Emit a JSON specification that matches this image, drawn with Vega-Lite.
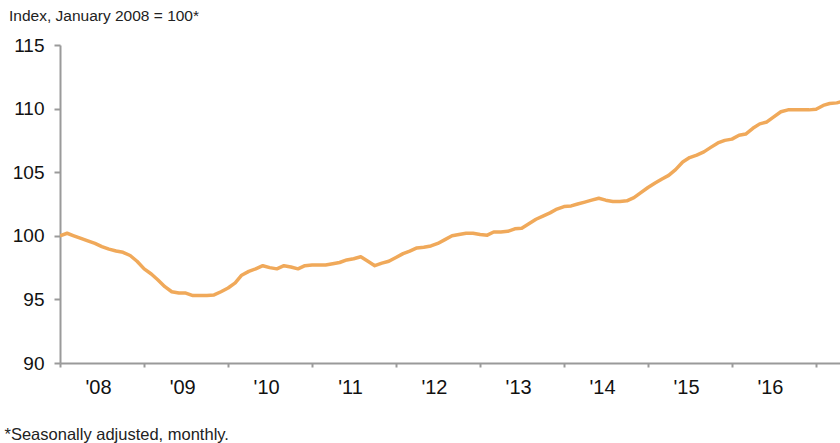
{
  "$schema": "https://vega.github.io/schema/vega-lite/v6.json",
  "autosize": "none",
  "width": 780,
  "height": 318,
  "padding": {"left": 60, "top": 45, "right": 0, "bottom": 80},
  "background": "white",
  "config": {
    "view": {"stroke": null},
    "font": "Liberation Sans",
    "axis": {"grid": false, "domainColor": "#9a9a9a", "tickColor": "#9a9a9a", "domainWidth": 2, "tickWidth": 2, "labelColor": "#111111", "labelFont": "Liberation Sans"}
  },
  "title": {
    "text": "Index, January 2008 = 100*",
    "anchor": "start",
    "frame": "bounds",
    "fontSize": 15.5,
    "fontWeight": "normal",
    "color": "#222222",
    "offset": 12,
    "dx": 5
  },
  "data": {
    "values": [
      {"date": "2008-01-01", "v": 100.0},
      {"date": "2008-02-01", "v": 100.2},
      {"date": "2008-03-01", "v": 100.0},
      {"date": "2008-04-01", "v": 99.8},
      {"date": "2008-05-01", "v": 99.6},
      {"date": "2008-06-01", "v": 99.4},
      {"date": "2008-07-01", "v": 99.15},
      {"date": "2008-08-01", "v": 98.95},
      {"date": "2008-09-01", "v": 98.8},
      {"date": "2008-10-01", "v": 98.7},
      {"date": "2008-11-01", "v": 98.45},
      {"date": "2008-12-01", "v": 98.0},
      {"date": "2009-01-01", "v": 97.4},
      {"date": "2009-02-01", "v": 97.0},
      {"date": "2009-03-01", "v": 96.55},
      {"date": "2009-04-01", "v": 96.0},
      {"date": "2009-05-01", "v": 95.6},
      {"date": "2009-06-01", "v": 95.5},
      {"date": "2009-07-01", "v": 95.5},
      {"date": "2009-08-01", "v": 95.3},
      {"date": "2009-09-01", "v": 95.3},
      {"date": "2009-10-01", "v": 95.3},
      {"date": "2009-11-01", "v": 95.35},
      {"date": "2009-12-01", "v": 95.6},
      {"date": "2010-01-01", "v": 95.9},
      {"date": "2010-02-01", "v": 96.3},
      {"date": "2010-03-01", "v": 96.9},
      {"date": "2010-04-01", "v": 97.2},
      {"date": "2010-05-01", "v": 97.4},
      {"date": "2010-06-01", "v": 97.65},
      {"date": "2010-07-01", "v": 97.5},
      {"date": "2010-08-01", "v": 97.4},
      {"date": "2010-09-01", "v": 97.65},
      {"date": "2010-10-01", "v": 97.55},
      {"date": "2010-11-01", "v": 97.4},
      {"date": "2010-12-01", "v": 97.65},
      {"date": "2011-01-01", "v": 97.7},
      {"date": "2011-02-01", "v": 97.7},
      {"date": "2011-03-01", "v": 97.7},
      {"date": "2011-04-01", "v": 97.8},
      {"date": "2011-05-01", "v": 97.9},
      {"date": "2011-06-01", "v": 98.1},
      {"date": "2011-07-01", "v": 98.2},
      {"date": "2011-08-01", "v": 98.35},
      {"date": "2011-09-01", "v": 98.0},
      {"date": "2011-10-01", "v": 97.65},
      {"date": "2011-11-01", "v": 97.85},
      {"date": "2011-12-01", "v": 98.0},
      {"date": "2012-01-01", "v": 98.3},
      {"date": "2012-02-01", "v": 98.6},
      {"date": "2012-03-01", "v": 98.8},
      {"date": "2012-04-01", "v": 99.05},
      {"date": "2012-05-01", "v": 99.1},
      {"date": "2012-06-01", "v": 99.2},
      {"date": "2012-07-01", "v": 99.4},
      {"date": "2012-08-01", "v": 99.7},
      {"date": "2012-09-01", "v": 100.0},
      {"date": "2012-10-01", "v": 100.1},
      {"date": "2012-11-01", "v": 100.2},
      {"date": "2012-12-01", "v": 100.2},
      {"date": "2013-01-01", "v": 100.1},
      {"date": "2013-02-01", "v": 100.05},
      {"date": "2013-03-01", "v": 100.3},
      {"date": "2013-04-01", "v": 100.3},
      {"date": "2013-05-01", "v": 100.35},
      {"date": "2013-06-01", "v": 100.55},
      {"date": "2013-07-01", "v": 100.6},
      {"date": "2013-08-01", "v": 100.95},
      {"date": "2013-09-01", "v": 101.3},
      {"date": "2013-10-01", "v": 101.55},
      {"date": "2013-11-01", "v": 101.8},
      {"date": "2013-12-01", "v": 102.1},
      {"date": "2014-01-01", "v": 102.3},
      {"date": "2014-02-01", "v": 102.35},
      {"date": "2014-03-01", "v": 102.5},
      {"date": "2014-04-01", "v": 102.65},
      {"date": "2014-05-01", "v": 102.8},
      {"date": "2014-06-01", "v": 102.95},
      {"date": "2014-07-01", "v": 102.8},
      {"date": "2014-08-01", "v": 102.7},
      {"date": "2014-09-01", "v": 102.7},
      {"date": "2014-10-01", "v": 102.75},
      {"date": "2014-11-01", "v": 103.0},
      {"date": "2014-12-01", "v": 103.4},
      {"date": "2015-01-01", "v": 103.8},
      {"date": "2015-02-01", "v": 104.15},
      {"date": "2015-03-01", "v": 104.45},
      {"date": "2015-04-01", "v": 104.75},
      {"date": "2015-05-01", "v": 105.2},
      {"date": "2015-06-01", "v": 105.8},
      {"date": "2015-07-01", "v": 106.15},
      {"date": "2015-08-01", "v": 106.35},
      {"date": "2015-09-01", "v": 106.6},
      {"date": "2015-10-01", "v": 106.95},
      {"date": "2015-11-01", "v": 107.3},
      {"date": "2015-12-01", "v": 107.5},
      {"date": "2016-01-01", "v": 107.6},
      {"date": "2016-02-01", "v": 107.9},
      {"date": "2016-03-01", "v": 108.0},
      {"date": "2016-04-01", "v": 108.45},
      {"date": "2016-05-01", "v": 108.8},
      {"date": "2016-06-01", "v": 108.95},
      {"date": "2016-07-01", "v": 109.35},
      {"date": "2016-08-01", "v": 109.75},
      {"date": "2016-09-01", "v": 109.9},
      {"date": "2016-10-01", "v": 109.9},
      {"date": "2016-11-01", "v": 109.9},
      {"date": "2016-12-01", "v": 109.9},
      {"date": "2017-01-01", "v": 109.95},
      {"date": "2017-02-01", "v": 110.25},
      {"date": "2017-03-01", "v": 110.4},
      {"date": "2017-04-01", "v": 110.45},
      {"date": "2017-05-01", "v": 110.6}
    ]
  },
  "mark": {"type": "line", "color": "#F0A95A", "strokeWidth": 3.5, "clip": true, "strokeJoin": "round"},
  "encoding": {
    "x": {
      "field": "date",
      "type": "temporal",
      "scale": {"domain": [{"year": 2008, "month": 1, "date": 1}, {"year": 2017, "month": 4, "date": 15}]},
      "axis": {
        "values": [
          {"year": 2008, "month": 1, "date": 1}, {"year": 2009, "month": 1, "date": 1}, {"year": 2010, "month": 1, "date": 1},
          {"year": 2011, "month": 1, "date": 1}, {"year": 2012, "month": 1, "date": 1}, {"year": 2013, "month": 1, "date": 1},
          {"year": 2014, "month": 1, "date": 1}, {"year": 2015, "month": 1, "date": 1}, {"year": 2016, "month": 1, "date": 1},
          {"year": 2017, "month": 1, "date": 1}
        ],
        "labelExpr": "year(datum.value) > 2016 ? '' : \"'\" + timeFormat(datum.value, '%y')",
        "labelOffset": 38,
        "labelFontSize": 20,
        "labelPadding": 10,
        "labelBound": false,
        "labelFlush": false,
        "labelOverlap": false,
        "tickSize": 4,
        "title": "*Seasonally adjusted, monthly.",
        "titleFont": "Liberation Sans",
        "titleFontSize": 16.5,
        "titleFontWeight": "normal",
        "titleColor": "#222222",
        "titleAnchor": "start",
        "titleAlign": "left",
        "titleBaseline": "alphabetic",
        "titleX": -56,
        "titleY": 76
      }
    },
    "y": {
      "field": "v",
      "type": "quantitative",
      "scale": {"domain": [90, 115], "nice": false, "zero": false},
      "axis": {
        "values": [90, 95, 100, 105, 110, 115],
        "labelFontSize": 19,
        "labelPadding": 10,
        "tickSize": 6,
        "title": null
      }
    }
  }
}
